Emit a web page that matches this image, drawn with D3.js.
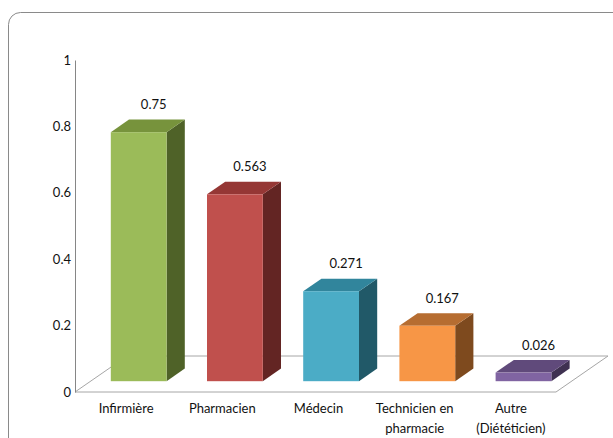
<!DOCTYPE html>
<html>
<head>
<meta charset="utf-8">
<script src="https://cdn.jsdelivr.net/npm/d3@7"></script>
<style>
  html, body { margin: 0; padding: 0; background: #fff; }
  svg { display: block; font-family: Lato, "Open Sans", sans-serif; }
</style>
</head>
<body>
<svg id="chart" width="613" height="438"></svg>
<script>
// Data
const categories = ["Infirmière", "Pharmacien", "Médecin", "Technicien en\npharmacie", "Autre\n(Diététicien)"];
const values = [0.75, 0.563, 0.271, 0.167, 0.026];
const tickValues = [0, 0.2, 0.4, 0.6, 0.8, 1];
const frontColors = ["#9BBB59", "#C0504D", "#4BACC6", "#F79646", "#8064A2"];
const topColors   = ["#77933C", "#953735", "#31859C", "#B66D31", "#604A7B"];
const sideColors  = ["#4F6228", "#632523", "#215968", "#7E4A1E", "#3F3151"];

const svg = d3.select("#chart");
const fontSize = 13;
const textColor = "#111";

// Frame
svg.append("rect")
  .attr("x", 8.5).attr("y", 12.5)
  .attr("width", 630).attr("height", 440)
  .attr("rx", 12)
  .attr("fill", "none")
  .attr("stroke", "#8a8a8a")
  .attr("stroke-width", 1);

// Plot geometry (oblique 3D projection)
const floorLeft = 75, floorRight = 556, floorY = 392;
const depthX = 52, depthY = -36;           // full floor depth offset
const barDepthStart = 0.3, barDepthSize = 0.35;

const x = d3.scaleBand().domain(categories).range([floorLeft, floorRight]).padding(0);
const y = d3.scaleLinear().domain([0, 1]).range([floorY, 60]);
const barWidth = x.bandwidth() * 0.58;

// Floor
const floorPts = [
  [floorLeft, floorY], [floorRight, floorY],
  [floorRight + depthX, floorY + depthY], [floorLeft + depthX, floorY + depthY]
];
svg.append("polygon")
  .attr("points", floorPts.map(p => p.join(",")).join(" "))
  .attr("fill", "#fff")
  .attr("stroke", "#a6a6a6")
  .attr("stroke-width", 1);

// Value axis
const axis = d3.axisLeft(y)
  .tickValues(tickValues)
  .tickFormat(d3.format("~g"))
  .tickSize(0)
  .tickSizeOuter(0)
  .tickPadding(4);
const gAxis = svg.append("g")
  .attr("transform", `translate(${floorLeft},0)`)
  .call(axis);
gAxis.select(".domain").attr("stroke", "#868686");
gAxis.selectAll("text")
  .attr("font-size", fontSize)
  .attr("fill", textColor)
  .attr("font-family", "Lato, sans-serif");

// Bars
const offX = depthX * barDepthStart, offY = depthY * barDepthStart;
const dX = depthX * barDepthSize, dY = depthY * barDepthSize;

const bars = svg.append("g").selectAll("g")
  .data(categories.map((c, i) => ({ c, v: values[i], i })))
  .join("g");

bars.each(function (d) {
  const g = d3.select(this);
  const cx = x(d.c) + x.bandwidth() / 2 + offX;
  const x0 = cx - barWidth / 2, x1 = cx + barWidth / 2;
  const yb = y(0) + offY, yt = y(d.v) + offY;
  const pts = a => a.map(p => p.join(",")).join(" ");
  g.append("polygon")
    .attr("points", pts([[x1, yb], [x1, yt], [x1 + dX, yt + dY], [x1 + dX, yb + dY]]))
    .attr("fill", sideColors[d.i]);
  g.append("polygon")
    .attr("points", pts([[x0, yt], [x1, yt], [x1 + dX, yt + dY], [x0 + dX, yt + dY]]))
    .attr("fill", topColors[d.i]);
  g.append("rect")
    .attr("x", x0).attr("y", yt)
    .attr("width", barWidth).attr("height", yb - yt)
    .attr("fill", frontColors[d.i]);
  g.append("text")
    .attr("x", cx + 15)
    .attr("y", yt + dY - 15)
    .attr("dy", "0.35em")
    .attr("text-anchor", "middle")
    .attr("font-size", fontSize)
    .attr("fill", textColor)
    .text(d.v);
});

// Category labels
const labels = svg.append("g").selectAll("text")
  .data(categories)
  .join("text")
  .attr("x", d => x(d) + x.bandwidth() / 2 + 3)
  .attr("y", 413)
  .attr("text-anchor", "middle")
  .attr("font-size", fontSize)
  .attr("fill", textColor);
labels.each(function (d) {
  d.split("\n").forEach((line, k) => {
    d3.select(this).append("tspan")
      .attr("x", d3.select(this).attr("x"))
      .attr("dy", k === 0 ? 0 : 20)
      .text(line);
  });
});
</script>
</body>
</html>
